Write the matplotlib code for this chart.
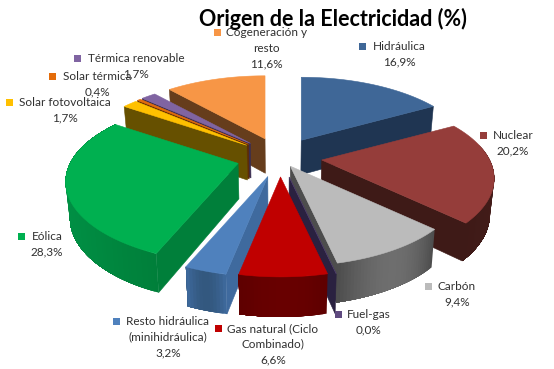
#!/usr/bin/env python3
# -*- coding: utf-8 -*-
"""
Origen de la electricidad, exploded 3D pie drawn by hand
"""

import numpy as np
import matplotlib
matplotlib.use('Agg')
import matplotlib.pyplot as plt

# data, clockwise from the top
names = ['Hidráulica', 'Nuclear', 'Carbón', 'Fuel-gas', 'Gas natural (Ciclo\nCombinado)',
         'Resto hidráulica\n(minihidráulica)', 'Eólica', 'Solar fotovoltaica',
         'Solar térmica', 'Térmica renovable', 'Cogeneración y\nresto']
values = [16.9, 20.2, 9.4, 0.0, 6.6, 3.2, 28.3, 1.7, 0.4, 1.7, 11.6]

# colours: top face, side faces, lighter part of the rim
top_col = ['#3F6797', '#953D3A', '#BBBBBB', '#5F4A80', '#C00000', '#4F81BD',
           '#00B050', '#FFC000', '#E46C0A', '#8064A2', '#F79646']
side_col = ['#1F3552', '#3E1A17', '#4D4D4D', '#2A2140', '#5E0000', '#3F6A9E',
            '#007F3A', '#665000', '#5E2C04', '#3A2D50', '#663D1C']
rim_col = ['#1F3552', '#431C19', '#6E6E6E', '#2A2140', '#680000', '#33587F',
           '#008F44', '#665000', '#5E2C04', '#3A2D50', '#663D1C']
# how far each slice is pulled out
explode = [1, 1, 0.5, 1, 0.97, 1, 1.04, 1, 1, 1, 1]
# back to front
draw_order = [0, 10, 9, 8, 7, 1, 6, 2, 3, 5, 4]

# label layout: text centre x, first line y, marker x
label_x = [399, 513, 457, 369, 273, 168, 47, 65, 97, 136, 266]
label_y = [47, 136, 287, 315, 329, 322, 237, 103, 77, 59, 33]
marker_x = [362, 483, 428, 338, 218, 116, 21, 9, 52, 77, 217]

plt.rcParams['font.family'] = ['Lato', 'DejaVu Sans']

# pie geometry in pixels
cx, cy = 280, 157.5
ex, ey = 42, 20
rx, ry = 168, 77.3
persp = 0.227

fig = plt.figure(figsize=(5.54, 3.69), dpi=100)
ax = fig.add_axes([0, 0, 1, 1])
ax.set_xlim(0, 554)
ax.set_ylim(369, 0)
ax.axis('off')


def apex(i, mid):
    return cx + ex*explode[i]*np.sin(mid), cy - ey*explode[i]*np.cos(mid)


def arc(x0, y0, a):
    w = 1 + persp*np.cos(a)
    return x0 + rx*np.sin(a)/w, y0 - ry*np.cos(a)/w


def drop(x, y):
    # bottom edge of the pie for a point on the top face
    return x - (x - cx)*0.02, y + 32 + (y - 77)*0.04


def face(x, y, col, z):
    ax.fill(x, y, facecolor=col, edgecolor=col, lw=0.4, zorder=z)


def wall(x0, y0, a, col, z):
    xa, ya = arc(x0, y0, a)
    xb, yb = drop(np.array([x0, xa]), np.array([y0, ya]))
    face([x0, xa, xb[1], xb[0]], [y0, ya, yb[1], yb[0]], col, z)


edges = np.cumsum([0] + values)/100*2*np.pi
for n, i in enumerate(draw_order):
    a0, a1 = edges[i], edges[i+1]
    mid = (a0 + a1)/2
    x0, y0 = apex(i, mid)
    z = 2 + n*0.1

    # rim, in small strips so it can be shaded; each strip runs under the next
    steps = max(int((a1 - a0)*60), 2)
    aa = np.linspace(a0, a1, steps + 1)
    xt, yt = arc(x0, y0, aa)
    xb, yb = drop(xt, yt)
    c0 = np.array(matplotlib.colors.to_rgb(side_col[i]))
    c1 = np.array(matplotlib.colors.to_rgb(rim_col[i]))
    for k in range(steps):
        if np.cos(aa[k]) > 0.2 and np.cos(aa[k+1]) > 0.2:
            continue
        t = np.sin(np.pi*(k + 0.5)/steps)
        # strip runs on to the end of the slice, later strips paint over it
        ax.fill(np.r_[xt[k:], xb[k:][::-1]], np.r_[yt[k:], yb[k:][::-1]],
                facecolor=c0 + (c1 - c0)*t, edgecolor='none', zorder=z)

    # radial walls that face the viewer
    if np.sin(a0) < -0.01:
        wall(x0, y0, a0, side_col[i], z + 0.01)
    if np.sin(a1) > 0.01:
        wall(x0, y0, a1, side_col[i], z + 0.01)

    # top face
    face(np.r_[x0, xt], np.r_[y0, yt], top_col[i], z + 0.02)

ax.text(333, 19, 'Origen de la Electricidad (%)', ha='center', va='center',
        fontsize=15.5, fontweight='bold', color='black', zorder=10)

for i, name in enumerate(names):
    txt = name + '\n' + ('%.1f%%' % values[i]).replace('.', ',')
    ax.text(label_x[i], label_y[i] - 6, txt, ha='center', va='top', fontsize=8.5,
            color='#303030', linespacing=1.5, zorder=10)
    ax.add_patch(plt.Rectangle((marker_x[i] - 3, label_y[i] - 4), 7, 7,
                               facecolor=top_col[i], edgecolor='none', zorder=10))

fig.savefig('out.png', dpi=100, facecolor='white')
